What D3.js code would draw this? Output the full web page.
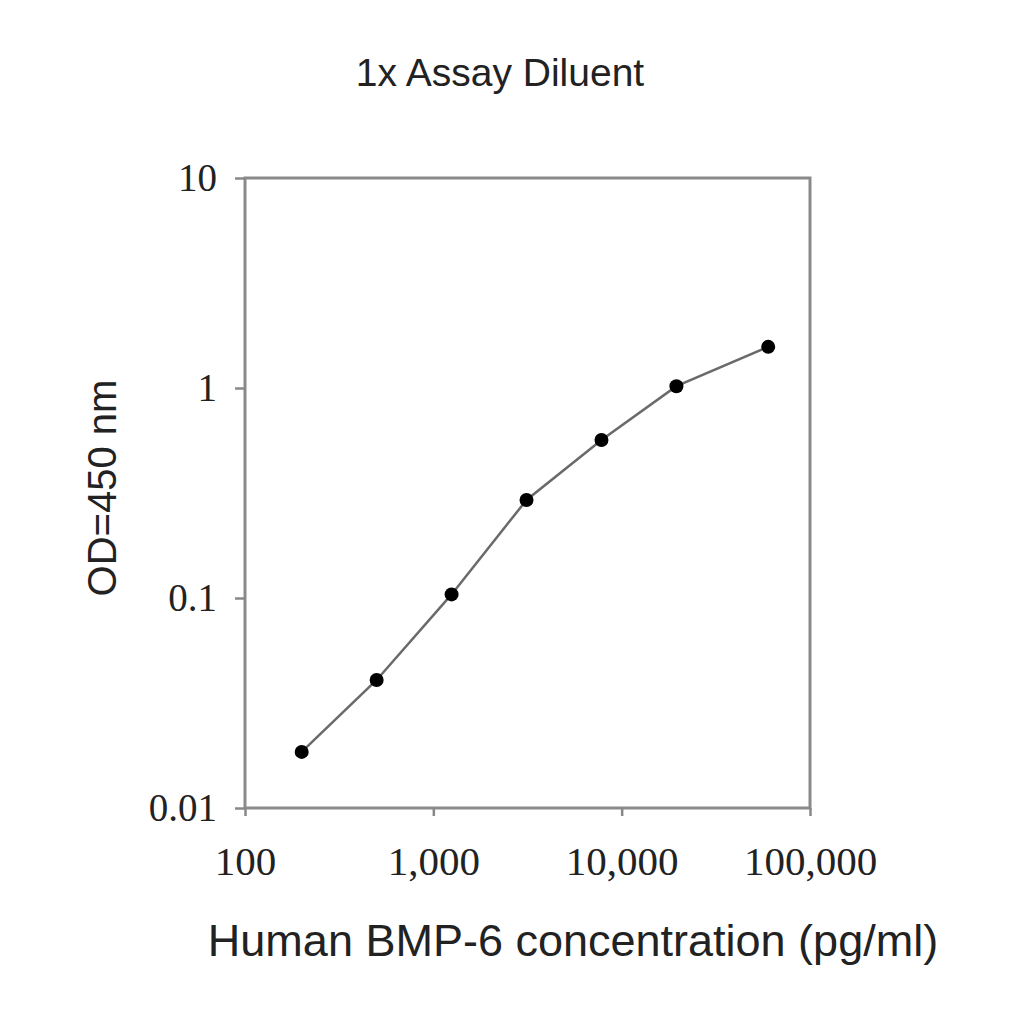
<!DOCTYPE html>
<html>
<head>
<meta charset="utf-8">
<script src="https://cdn.jsdelivr.net/npm/d3@7"></script>
<style>
  body { margin: 0; background: #fff; }
  .axis text { font-family: "Liberation Serif", "Times New Roman", serif; fill: #222; }
  .axis line { stroke: #888; stroke-width: 2.5; }
  .axis path { display: none; }
  .lbl { font-family: "Liberation Sans", Arial, sans-serif; fill: #222; }
</style>
</head>
<body>
<div id="vis"></div>
<script>
const WIDTH = 1024;
const HEIGHT = 1024;
const PLOT = {left: 245, right: 810, top: 178, bottom: 808};

// standard curve data (pg/ml vs OD 450 nm)
const concentration = [200, 500, 1250, 3125, 7812.5, 19531, 60000];
const od450 = [0.0185, 0.0407, 0.104, 0.293, 0.565, 1.02, 1.57];

const xTicks = [100, 1000, 10000, 100000];
const xTickLabels = ["100", "1,000", "10,000", "100,000"];
const yTicks = [0.01, 0.1, 1, 10];
const yTickLabels = ["0.01", "0.1", "1", "10"];

const svg = d3.select("#vis")
  .append("svg")
    .attr("width", WIDTH)
    .attr("height", HEIGHT);

const X_SCALE = d3.scaleLog()
  .domain([100, 100000])
  .range([PLOT.left, PLOT.right]);

const Y_SCALE = d3.scaleLog()
  .domain([0.01, 10])
  .range([PLOT.bottom, PLOT.top]);

// frame
svg.append("rect")
  .attr("x", PLOT.left)
  .attr("y", PLOT.top)
  .attr("width", PLOT.right - PLOT.left)
  .attr("height", PLOT.bottom - PLOT.top)
  .attr("fill", "none")
  .attr("stroke", "#8a8a8a")
  .attr("stroke-width", 3);

// axes
svg.append("g")
  .attr("class", "axis")
  .attr("transform", "translate(0," + PLOT.bottom + ")")
  .call(d3.axisBottom(X_SCALE)
    .tickValues(xTicks)
    .tickFormat((d, i) => xTickLabels[i])
    .tickSize(8)
    .tickPadding(30))
  .selectAll("text")
    .attr("font-size", "41px");

svg.append("g")
  .attr("class", "axis")
  .attr("transform", "translate(" + PLOT.left + ",0)")
  .call(d3.axisLeft(Y_SCALE)
    .tickValues(yTicks)
    .tickFormat((d, i) => yTickLabels[i])
    .tickSize(10)
    .tickPadding(18))
  .selectAll("text")
    .attr("font-size", "39px");

// curve
const pts = concentration.map((c, i) => [c, od450[i]]);

svg.append("path")
  .datum(pts)
  .attr("fill", "none")
  .attr("stroke", "#6a6a6a")
  .attr("stroke-width", 2.5)
  .attr("d", d3.line()
    .x(d => X_SCALE(d[0]))
    .y(d => Y_SCALE(d[1])));

svg.selectAll(".pt")
  .data(pts)
  .enter()
  .append("circle")
    .attr("class", "pt")
    .attr("cx", d => X_SCALE(d[0]))
    .attr("cy", d => Y_SCALE(d[1]))
    .attr("r", 7)
    .attr("fill", "#000");

// labels
svg.append("text")
  .attr("class", "lbl")
  .attr("x", 500)
  .attr("y", 86)
  .attr("text-anchor", "middle")
  .attr("font-size", "39px")
  .text("1x Assay Diluent");

svg.append("text")
  .attr("class", "lbl")
  .attr("transform", "translate(116,488) rotate(-90)")
  .attr("text-anchor", "middle")
  .attr("font-size", "40px")
  .text("OD=450 nm");

svg.append("text")
  .attr("class", "lbl")
  .attr("x", 573)
  .attr("y", 956)
  .attr("text-anchor", "middle")
  .attr("font-size", "45px")
  .text("Human BMP-6 concentration (pg/ml)");
</script>
</body>
</html>
